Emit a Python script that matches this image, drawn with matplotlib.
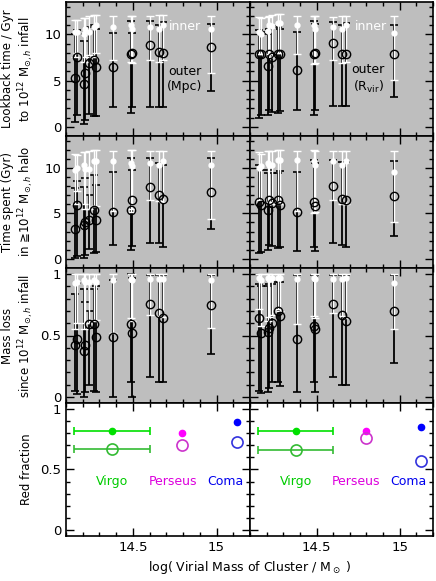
import numpy as np
import matplotlib
matplotlib.use('Agg')
import matplotlib.pyplot as plt
from matplotlib.ticker import MultipleLocator

# log virial mass of the simulated clusters
mass = np.array([14.155, 14.165, 14.21, 14.215, 14.235, 14.27, 14.28,
                 14.38, 14.487, 14.493, 14.60, 14.655, 14.68, 14.965])

# rows: median, lower, upper
# lookback time to infall, Mpc apertures
lb_mpc_in = np.array([
    [10.2, 10.3, 10.0, 10.6, 10.3, 10.8, 11.0, 10.8, 11.0, 10.6, 10.8, 10.6, 11.0, 10.6],
    [7.5, 8.0, 7.0, 7.5, 7.8, 7.5, 8.0, 7.2, 7.0, 6.9, 7.2, 7.0, 7.2, 5.8],
    [11.6, 11.6, 11.8, 11.8, 12.0, 12.1, 12.1, 12.0, 12.0, 12.0, 12.0, 12.1, 12.1, 12.0]])
lb_mpc_out = np.array([
    [5.3, 7.6, 4.6, 5.8, 6.9, 7.2, 6.5, 6.5, 7.9, 8.0, 8.9, 8.1, 8.0, 8.6],
    [0.5, 1.3, 0.3, 0.7, 1.4, 1.2, 1.2, 2.1, 1.5, 2.1, 2.1, 2.1, 2.1, 3.9],
    [10.0, 10.5, 9.3, 10.0, 10.8, 11.0, 10.6, 10.1, 11.4, 10.1, 11.4, 11.0, 11.3, 11.1]])
# lookback time, Rvir apertures
lb_rvir_in = np.array([
    [10.3, 10.0, 10.4, 11.0, 10.9, 11.2, 11.2, 11.0, 11.0, 10.6, 10.8, 10.6, 11.0, 10.1],
    [7.9, 7.9, 7.9, 7.6, 7.5, 8.0, 8.0, 7.9, 6.8, 6.9, 7.2, 6.9, 7.0, 5.05],
    [11.9, 11.8, 11.9, 12.0, 12.1, 12.2, 12.2, 12.0, 12.0, 12.0, 11.9, 12.0, 12.0, 12.0]])
lb_rvir_out = np.array([
    [7.9, 7.9, 6.6, 7.9, 7.5, 7.9, 7.9, 6.1, 7.9, 8.0, 9.1, 7.9, 7.9, 7.9],
    [1.0, 1.3, 1.3, 1.8, 1.6, 1.5, 1.7, 1.8, 1.3, 1.8, 2.2, 2.2, 2.2, 3.2],
    [10.5, 10.3, 10.0, 10.6, 10.9, 10.8, 10.6, 10.25, 11.4, 11.1, 11.3, 11.0, 11.2, 11.0]])

# time spent in >=1e12 halo
ts_mpc_in = np.array([
    [9.75, 10.0, 10.3, 9.9, 9.9, 10.7, 10.8, 10.7, 10.5, 10.2, 10.5, 10.3, 10.8, 10.3],
    [6.0, 7.5, 6.0, 5.5, 5.5, 5.8, 5.8, 5.3, 5.2, 5.5, 6.5, 6.35, 6.2, 4.4],
    [11.5, 11.4, 11.7, 11.7, 11.8, 12.0, 12.0, 11.9, 12.0, 12.0, 11.8, 11.9, 11.9, 11.9]])
ts_mpc_out = np.array([
    [3.25, 5.9, 3.7, 4.1, 4.3, 5.4, 4.3, 5.1, 5.4, 6.5, 7.9, 7.0, 6.6, 7.3],
    [0.1, 0.35, 0.1, 0.45, 1.05, 0.6, 0.8, 1.5, 1.0, 1.4, 1.8, 1.7, 1.35, 3.25],
    [7.8, 8.6, 7.9, 8.9, 7.0, 9.2, 8.1, 9.6, 11.1, 9.8, 11.1, 10.5, 10.3, 11.1]])
ts_rvir_in = np.array([
    [10.0, 10.2, 10.5, 10.3, 10.3, 10.9, 10.9, 10.9, 10.7, 10.3, 10.7, 10.3, 10.8, 9.6],
    [6.5, 6.5, 6.0, 6.2, 6.0, 6.3, 6.0, 5.3, 5.0, 5.2, 6.5, 6.0, 6.0, 4.0],
    [11.75, 11.5, 11.8, 11.8, 11.9, 12.0, 12.0, 11.9, 12.0, 11.9, 11.8, 11.9, 11.9, 11.9]])
ts_rvir_out = np.array([
    [6.3, 5.9, 5.4, 6.5, 6.1, 6.5, 5.9, 5.1, 6.2, 5.8, 8.0, 6.6, 6.5, 6.9],
    [0.6, 0.8, 1.0, 1.5, 1.4, 1.2, 1.3, 0.9, 1.35, 0.9, 1.8, 1.5, 1.35, 2.5],
    [10.3, 9.8, 9.4, 9.8, 9.4, 9.4, 9.7, 9.6, 10.9, 10.5, 10.9, 10.6, 10.6, 10.7]])

# mass loss since infall
ml_mpc_in = np.array([
    [0.93, 0.94, 0.95, 0.94, 0.94, 0.95, 0.94, 0.95, 0.96, 0.95, 0.96, 0.96, 0.96, 0.95],
    [0.55, 0.60, 0.55, 0.60, 0.60, 0.62, 0.63, 0.52, 0.64, 0.62, 0.67, 0.66, 0.65, 0.56],
    [1.0, 1.0, 1.0, 1.0, 1.0, 1.0, 1.0, 1.0, 1.0, 1.0, 1.0, 1.0, 1.0, 1.0]])
ml_mpc_out = np.array([
    [0.42, 0.47, 0.37, 0.42, 0.59, 0.59, 0.49, 0.49, 0.59, 0.52, 0.76, 0.68, 0.64, 0.75],
    [0.05, 0.02, 0.0, 0.04, 0.10, 0.05, 0.04, 0.0, 0.12, 0.0, 0.16, 0.12, 0.12, 0.35],
    [0.84, 0.93, 0.88, 0.77, 0.70, 0.88, 0.90, 0.95, 1.0, 0.97, 0.99, 0.99, 0.99, 0.99]])
ml_rvir_in = np.array([
    [0.97, 0.95, 0.97, 0.96, 0.97, 0.97, 0.97, 0.96, 0.97, 0.96, 0.96, 0.96, 0.97, 0.93],
    [0.72, 0.58, 0.62, 0.65, 0.67, 0.72, 0.70, 0.59, 0.66, 0.64, 0.68, 0.66, 0.64, 0.55],
    [1.0, 1.0, 1.0, 1.0, 1.0, 1.0, 1.0, 1.0, 1.0, 1.0, 1.0, 1.0, 1.0, 1.0]])
ml_rvir_out = np.array([
    [0.64, 0.52, 0.53, 0.56, 0.60, 0.70, 0.66, 0.47, 0.58, 0.55, 0.76, 0.67, 0.62, 0.70],
    [0.05, 0.03, 0.04, 0.07, 0.12, 0.12, 0.09, 0.04, 0.12, 0.04, 0.16, 0.10, 0.10, 0.28],
    [0.92, 0.90, 0.90, 0.92, 0.92, 0.94, 0.94, 0.99, 0.99, 0.99, 0.99, 0.99, 0.99, 0.99]])

# observed clusters
obs_names = ['Virgo', 'Perseus', 'Coma']
obs_mass = [14.375, 14.795, 15.125]
virgo_range = [14.15, 14.60]
red_in_mpc = [0.82, 0.80, 0.89]
red_out_mpc = [0.67, 0.70, 0.73]
red_in_rvir = [0.82, 0.815, 0.85]
red_out_rvir = [0.66, 0.76, 0.57]
col_fill = ['#00e000', '#ff00ff', '#0000ff']
col_open = ['#33bb33', '#cc33cc', '#3333dd']
col_text = ['#00cc00', '#dd00dd', '#0000ee']
label_x = [14.375, 14.74, 15.05]

W, H = 436, 581
fig = plt.figure(figsize=(W / 100, H / 100), dpi=100)
plt.rcParams['font.size'] = 9

xl, xm, xr = 66, 250, 433
ys = [2, 136, 268, 403, 536]
axes = []
for r in range(4):
    row = []
    for c in range(2):
        x0 = [xl, xm][c]
        x1 = [xm, xr][c]
        ax = fig.add_axes([x0 / W, 1 - ys[r + 1] / H, (x1 - x0) / W, (ys[r + 1] - ys[r]) / H])
        row.append(ax)
    axes.append(row)


def style(ax, frac, left, bottom):
    ax.set_xlim(14.1, 15.2)
    ax.xaxis.set_major_locator(MultipleLocator(0.5))
    ax.xaxis.set_minor_locator(MultipleLocator(0.1))
    if frac:
        ax.set_ylim(-0.05, 1.05)
        ax.set_yticks([0, 0.5, 1], ['0', '0.5', '1'])
        ax.yaxis.set_minor_locator(MultipleLocator(0.1))
    else:
        ax.set_ylim(-1, 13.5)
        ax.set_yticks([0, 5, 10], ['0', '5', '10'])
        ax.yaxis.set_minor_locator(MultipleLocator(1))
    ax.tick_params(which='both', direction='in', top=True, right=True,
                   labelleft=left, labelbottom=bottom, width=1.0, labelsize=9.5)
    ax.tick_params(which='major', length=6)
    ax.tick_params(which='minor', length=3)
    if bottom:
        ax.set_xticks([14.5, 15], ['14.5', '15'])
    for s in ax.spines.values():
        s.set_linewidth(1.2)


def panel(ax, inner, outer):
    ax.set_facecolor('#bebebe')
    m, lo, hi = outer
    ax.errorbar(mass, m, yerr=[m - lo, hi - m], fmt='none', ecolor='k',
                elinewidth=1.3, capsize=3, capthick=1.2, zorder=2)
    m, lo, hi = inner
    ax.errorbar(mass, m, yerr=[m - lo, hi - m], fmt='none', ecolor='white',
                elinewidth=1.0, capsize=3, capthick=1.0, zorder=3)
    ax.plot(mass, outer[0], 'o', mfc='none', mec='k', ms=6, mew=1.0, zorder=4)
    ax.plot(mass, inner[0], 'o', color='white', ms=3.5, zorder=5)


data = [(lb_mpc_in, lb_mpc_out, lb_rvir_in, lb_rvir_out),
        (ts_mpc_in, ts_mpc_out, ts_rvir_in, ts_rvir_out),
        (ml_mpc_in, ml_mpc_out, ml_rvir_in, ml_rvir_out)]
for r in range(3):
    a, b, c, d = data[r]
    panel(axes[r][0], a, b)
    panel(axes[r][1], c, d)
    style(axes[r][0], r == 2, True, False)
    style(axes[r][1], r == 2, False, False)

axes[0][0].text(14.81, 10.9, 'inner', color='white', ha='center', va='center', fontsize=9)
axes[0][0].text(14.81, 5.15, 'outer\n(Mpc)', color='k', ha='center', va='center', fontsize=9)
axes[0][1].text(14.825, 10.9, 'inner', color='white', ha='center', va='center', fontsize=9)
axes[0][1].text(14.81, 5.15, 'outer\n(R$_{\\rm vir}$)', color='k', ha='center', va='center', fontsize=9)

# red fraction panels
for c, (rin, rout) in enumerate([(red_in_mpc, red_out_mpc), (red_in_rvir, red_out_rvir)]):
    ax = axes[3][c]
    xe = [[obs_mass[0] - virgo_range[0]], [virgo_range[1] - obs_mass[0]]]
    ax.errorbar(obs_mass[0], rin[0], xerr=xe, fmt='o', color=col_fill[0], ms=4.5,
                capsize=3, elinewidth=1.2, capthick=1.2)
    ax.errorbar(obs_mass[0], rout[0], xerr=xe, fmt='o', color=col_open[0], mfc='none',
                ms=8, mew=1.2, capsize=3, elinewidth=1.2, capthick=1.2)
    for i in range(1, 3):
        ax.plot(obs_mass[i], rin[i], 'o', color=col_fill[i], ms=4.5)
        ax.plot(obs_mass[i], rout[i], 'o', mfc='none', mec=col_open[i], ms=8, mew=1.2)
    for i in range(3):
        ax.text(label_x[i], 0.40, obs_names[i], color=col_text[i],
                ha='center', va='center', fontsize=9, clip_on=True)
    style(ax, True, c == 0, True)

ylabels = ['Lookback time / Gyr\nto 10$^{12}$ M$_{\\odot,h}$ infall',
           'Time spent (Gyr)\nin \u226710$^{12}$ M$_{\\odot,h}$ halo',
           'Mass loss\nsince 10$^{12}$ M$_{\\odot,h}$ infall',
           'Red fraction']
for r in range(4):
    axes[r][0].set_ylabel(ylabels[r], fontsize=8.5, linespacing=1.1)
    axes[r][0].yaxis.set_label_coords(-0.165 if r < 3 else -0.18, 0.5)

fig.text(250 / W, 1 - 568 / H, 'log( Virial Mass of Cluster / $\\mathrm{M}_\\odot$ )',
         ha='center', va='center', fontsize=9)

fig.savefig('out.png', dpi=100)
